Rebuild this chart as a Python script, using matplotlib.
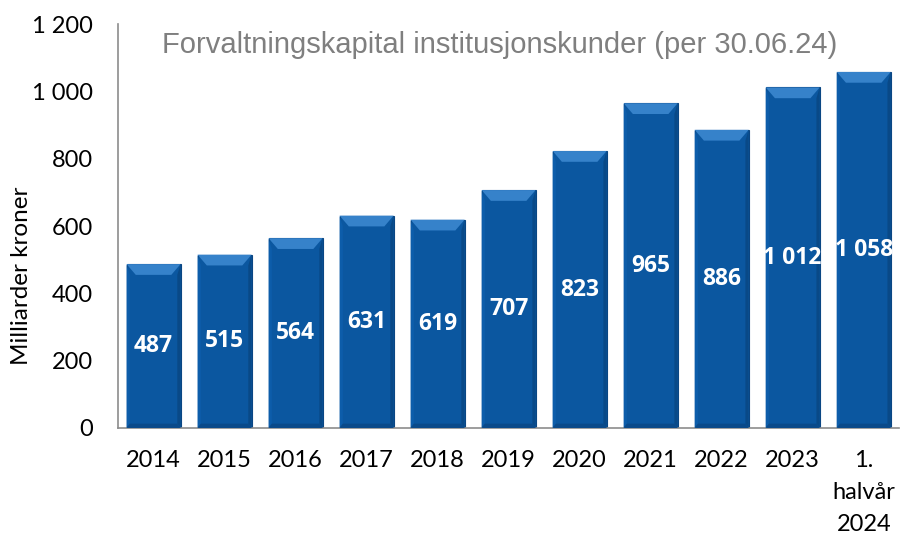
import matplotlib
matplotlib.use("Agg")
import matplotlib.pyplot as plt
from matplotlib.patches import Polygon

categories = ["2014", "2015", "2016", "2017", "2018", "2019", "2020", "2021", "2022", "2023", "1.\nhalvår\n2024"]
values = [487, 515, 564, 631, 619, 707, 823, 965, 886, 1012, 1058]
value_labels = ["487", "515", "564", "631", "619", "707", "823", "965", "886", "1 012", "1 058"]
yticks = [0, 200, 400, 600, 800, 1000, 1200]
ytick_labels = ["0", "200", "400", "600", "800", "1 000", "1 200"]
title = "Forvaltningskapital institusjonskunder (per 30.06.24)"
ylabel = "Milliarder kroner"

fig = plt.figure(figsize=(9.01, 5.37), dpi=100)
ax = fig.add_axes([0.131, 0.203, 0.867, 0.752])

x = list(range(len(categories)))
bars = ax.bar(x, values, width=0.76, color="#0B57A0", edgecolor="#0A4683", linewidth=0.8, zorder=2)
ax.set_xlim(-0.5, len(categories) - 0.5)
ax.set_ylim(0, 1200)

# bevel decoration derived from each bar's geometry
bx = 0.13   # horizontal inset (category units)
by = 32     # vertical inset (data units)
for b in bars:
    x0 = b.get_x(); w = b.get_width(); h = b.get_height()
    x1 = x0 + w
    top = Polygon([(x0, h), (x1, h), (x1 - bx, h - by), (x0 + bx, h - by)],
                  closed=True, facecolor="#3682CA", edgecolor="none", zorder=3)
    left = Polygon([(x0, 0), (x0, h), (x0 + bx * 0.35, h - by), (x0 + bx * 0.35, by * 0.4)],
                   closed=True, facecolor="#0D5DAA", edgecolor="none", zorder=3)
    right = Polygon([(x1, 0), (x1, h), (x1 - bx * 0.35, h - by), (x1 - bx * 0.35, by * 0.4)],
                    closed=True, facecolor="#094987", edgecolor="none", zorder=3)
    bottom = Polygon([(x0, 0), (x1, 0), (x1 - bx * 0.35, by * 0.4), (x0 + bx * 0.35, by * 0.4)],
                     closed=True, facecolor="#0A4A8A", edgecolor="none", zorder=3)
    for p in (top, left, right, bottom):
        ax.add_patch(p)

for b, lab in zip(bars, value_labels):
    ax.text(b.get_x() + b.get_width() / 2, b.get_height() / 2, lab,
            ha="center", va="center", color="white", fontsize=16.5,
            fontweight="bold", family="Open Sans", zorder=5)

ax.set_yticks(yticks)
ax.set_yticklabels(ytick_labels, family="Lato", fontsize=17)
ax.set_xticks(x)
ax.set_xticklabels(categories, family="Lato", fontsize=17, linespacing=1.63, va="top")
ax.tick_params(axis="y", length=0, pad=18)
ax.tick_params(axis="x", length=0, pad=16)

for s in ["top", "right"]:
    ax.spines[s].set_visible(False)
ax.spines["left"].set_color("#8C8C8C")
ax.spines["bottom"].set_color("#8C8C8C")
ax.spines["left"].set_linewidth(1.2)
ax.spines["bottom"].set_linewidth(1.2)

fig.text(22 / 901, 1 - 276 / 537, ylabel, rotation=90, ha="center", va="center",
         family="Lato", fontsize=17.5)

ax.text(0.489, 0.948, title, transform=ax.transAxes, ha="center", va="center",
        family="Liberation Sans", fontsize=21, color="#7F7F7F")

fig.savefig("out.png", dpi=100)
